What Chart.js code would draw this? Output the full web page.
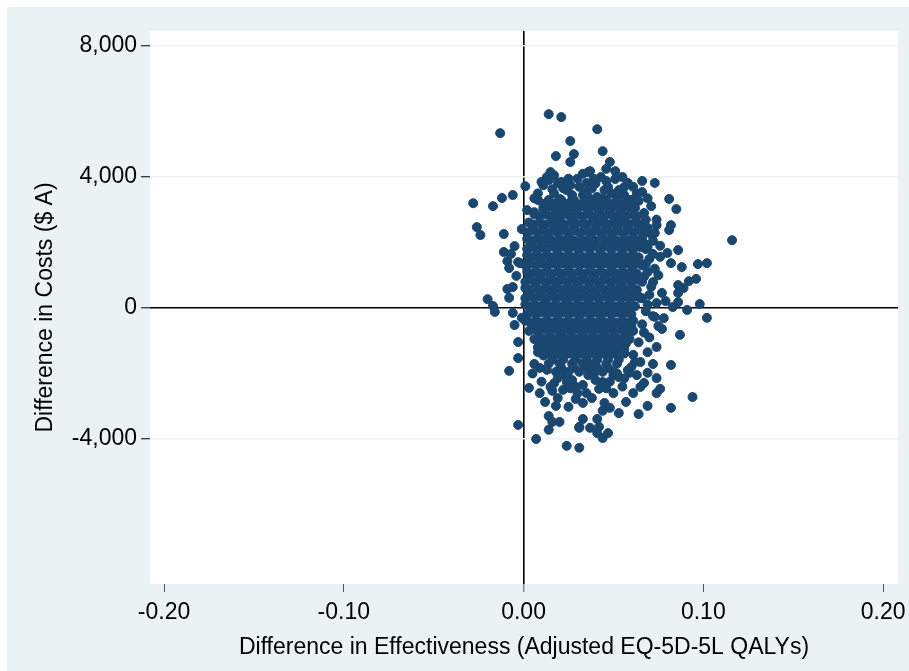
<!DOCTYPE html>
<html><head><meta charset="utf-8">
<script src="https://cdn.jsdelivr.net/npm/chart.js@4.4.0/dist/chart.umd.min.js"></script>
<style>html,body{margin:0;padding:0;background:#fff;overflow:hidden}#wrap{width:909px;height:671px;position:relative}</style>
</head><body><div id="wrap"><canvas id="c" width="909" height="671"></canvas></div>
<script>
const xTicks = [-0.2, -0.1, 0, 0.1, 0.2];
const yTicks = [-4000, 0, 4000, 8000];
const xRange = [-0.2078, 0.2083];
const yRange = [-8430, 8460];
const xTitle = 'Difference in Effectiveness (Adjusted EQ-5D-5L QALYs)';
const yTitle = 'Difference in Costs ($ A)';

// bootstrap replicates: [incremental QALYs, incremental cost]
const upperTail = [
[0.014,5920],[0.021,5830],[-0.013,5340],[0.026,5100],[0.018,4640],[0.028,4700],[0.026,4460],[0.015,4150],[0.013,4000],[0.036,4150],
[0.041,5460],[0.044,4790],[0.048,4460],[0.051,4180],[0.037,4180],[0.051,3940],[0.046,3880],[0.058,3820],[0.066,3880],[0.073,3820],
[0.056,3690],[0.045,3600],[0.066,3540],[0.052,3390],[0.064,3270],[0.081,3330],[0.085,3020],[0.071,3110],
[0.001,3720],[0.011,3750],[0.016,3630],[0.019,3820],[0.020,3330],[0.013,3080],[0.027,3450],[0.002,2990],
[0.035,3820],[0.026,3750],[0.022,3660],[0.036,3390],[0.041,3390],[0.059,3300],[0.021,3850],[0.014,3910],
[0.024,3600],[0.031,3700],[0.035,3550],[0.040,3800],[0.049,3500],[0.056,3450],[0.030,3950],[0.043,4000],[0.060,3300],[0.062,3050],[0.008,3500],
[0.006,3350],[0.017,3500],[0.028,3300],[0.033,3450],[0.038,3650],[0.044,3350],[0.047,3700],[0.053,3600],[0.063,3500],[0.069,3350],
[0.010,3850],[0.017,4050],[0.025,3950],[0.033,4100],[0.039,3950],[0.046,4250],[0.055,4000],[0.061,3700]
];
const leftTail = [
[-0.028,3200],[-0.017,3110],[-0.012,3360],[-0.006,3450],
[-0.026,2470],[-0.024,2230],[-0.011,2260],[-0.001,2410],[-0.005,1890],[-0.011,1710],[-0.007,1650],[-0.009,1430],[-0.008,1220],
[-0.003,1400],[-0.004,980],[-0.002,1370],[-0.006,640],[-0.009,580],[-0.008,310],[-0.020,270],[-0.017,60],[-0.016,-120],
[-0.006,-150],[-0.005,-520],[-0.001,-300],[-0.003,-1040],[-0.003,-1530],[-0.008,-1920],[-0.003,-3570]
];
const rightTail = [
[0.082,2530],[0.081,2380],[0.074,2530],[0.073,2290],[0.072,2050],[0.067,1980],[0.086,1770],[0.080,1680],[0.076,1560],[0.082,1370],
[0.088,1250],[0.097,1340],[0.102,1370],[0.116,2070],
[0.072,790],[0.086,700],[0.092,820],[0.096,890],[0.089,610],[0.086,460],[0.077,460],[0.079,210],[0.086,180],[0.083,30],[0.091,-60],
[0.098,120],[0.102,-300],[0.087,-820],[0.077,-640],[0.078,-310],[0.073,-270],
[0.068,2700],[0.070,1500],[0.069,1100],[0.070,400],[0.068,-100],[0.066,-500],[0.070,-900],
[0.067,2900],[0.069,2450],[0.071,2250],[0.066,2150],[0.069,1850],[0.072,1650],[0.068,1350],[0.073,1200],[0.067,950],[0.071,650],
[0.066,300],[0.069,100],[0.072,-250],[0.067,-750],[0.064,-1050],[0.069,-1350],[0.062,-1650],[0.074,2700],[0.076,1900],[0.075,1000],
[0.074,150],[0.075,-550]
];
const lowerTail = [
[0.003,-2440],[0.015,-2410],[0.016,-2530],[0.012,-2870],[0.018,-2990],[0.025,-3020],[0.029,-2780],[0.014,-3300],[0.016,-3480],[0.020,-3480],
[0.014,-3720],[0.033,-3390],[0.031,-3630],[0.007,-4000],[0.024,-4210],[0.031,-4270],
[0.006,-1710],[0.009,-1830],[0.013,-1890],[0.019,-2140],[0.024,-2260],
[0.074,-1190],[0.082,-1740],[0.072,-1710],[0.069,-1980],[0.074,-2140],[0.076,-2470],[0.074,-2600],[0.094,-2720],[0.082,-3050],
[0.069,-2990],[0.064,-3240],[0.053,-3210],[0.048,-3050],[0.044,-3140],[0.041,-3390],[0.042,-3630],[0.047,-3820],[0.044,-3970],[0.041,-3820],
[0.037,-3660],[0.061,-2600],[0.057,-2870],[0.067,-2290],[0.065,-2410],[0.050,-2600],[0.042,-2470],[0.044,-2260],[0.053,-2110],[0.040,-1950],
[0.059,-1980],[0.065,-1650],[0.061,-1430],[0.056,-1280],
[0.027,-2200],[0.033,-2350],[0.036,-2050],[0.048,-2250],[0.055,-2400],[0.030,-2600],[0.038,-2750],[0.052,-2000],[0.058,-1900],[0.022,-2500],[0.031,-3660],
[0.008,-1350],[0.005,-2000],[0.010,-2250],[0.017,-2300],[0.023,-2050],[0.029,-2400],[0.035,-2600],[0.040,-2200],[0.046,-2450],[0.050,-2050],
[0.056,-2150],[0.060,-1800],[0.063,-2050],[0.033,-2900],[0.045,-2900],[0.026,-2450],[0.009,-2600],[0.019,-2750]
];
// dense centre of the cloud, read row by row (cost level -> effectiveness values)
const coreCost = [3300,3175,3050,2925,2800,2650,2550,2425,2300,2150,2050,1925,1800,1650,1550,1425,1300,1150,1050,925,800,650,550,425,300,150,50,-75,-200,-350,-450,-575,-700,-850,-950,-1075,-1200,-1325,-1450,-1575,-1700,-1825,-1950];
const coreEff = [
[0.008,0.014,0.021,0.027,0.034,0.040,0.046,0.052],
[0.011,0.017,0.024,0.030,0.037,0.043,0.049,0.056],
[0.011,0.017,0.024,0.030,0.036,0.043,0.049,0.055,0.061],
[0.006,0.012,0.018,0.023,0.029,0.036,0.042,0.048,0.054,0.060],
[0.009,0.015,0.020,0.026,0.033,0.039,0.045,0.051,0.057,0.063],
[0.016,0.028,0.040,0.052],
[0.006,0.012,0.018,0.023,0.029,0.035,0.041,0.047,0.053,0.059,0.065],
[0.005,0.011,0.017,0.022,0.028,0.034,0.040,0.046,0.052,0.058,0.064],
[0.002,0.008,0.014,0.019,0.025,0.031,0.037,0.043,0.049,0.055,0.061,0.067],
[0.013,0.025,0.037,0.049],
[0.005,0.011,0.016,0.022,0.028,0.034,0.040,0.046,0.052,0.058,0.064],
[0.004,0.010,0.016,0.021,0.027,0.033,0.039,0.045,0.051,0.057,0.063],
[0.002,0.008,0.013,0.019,0.025,0.031,0.037,0.043,0.049,0.055,0.061,0.068],
[0.019,0.031,0.043,0.055],
[0.004,0.010,0.016,0.022,0.028,0.034,0.040,0.046,0.052,0.058,0.064],
[0.003,0.009,0.015,0.020,0.026,0.032,0.038,0.044,0.050,0.056,0.062],
[0.001,0.007,0.013,0.019,0.025,0.031,0.037,0.043,0.049,0.055,0.061,0.066],
[0.013,0.025,0.037,0.049],
[0.004,0.010,0.016,0.022,0.028,0.034,0.040,0.046,0.052,0.058,0.063],
[0.003,0.009,0.015,0.021,0.027,0.033,0.039,0.045,0.051,0.057,0.062],
[0.001,0.007,0.013,0.019,0.025,0.031,0.037,0.043,0.049,0.055,0.060,0.066],
[0.018,0.030,0.042,0.054],
[0.003,0.009,0.015,0.021,0.027,0.033,0.039,0.045,0.051,0.057,0.063],
[0.004,0.010,0.016,0.022,0.028,0.034,0.040,0.046,0.052,0.058,0.063],
[0.001,0.006,0.012,0.018,0.024,0.030,0.036,0.042,0.048,0.054,0.060,0.065],
[0.012,0.024,0.036,0.048],
[0.003,0.009,0.015,0.021,0.027,0.033,0.039,0.045,0.051,0.057,0.062],
[0.005,0.011,0.017,0.023,0.029,0.035,0.041,0.047,0.053,0.059],
[0.002,0.007,0.013,0.019,0.025,0.031,0.037,0.043,0.049,0.055,0.060],
[0.019,0.031,0.043],
[0.004,0.010,0.016,0.022,0.028,0.034,0.040,0.046,0.052,0.058],
[0.006,0.012,0.018,0.024,0.030,0.036,0.042,0.048,0.054,0.060],
[0.003,0.008,0.014,0.020,0.026,0.032,0.038,0.044,0.050,0.056,0.061],
[0.021,0.033,0.045],
[0.006,0.012,0.018,0.024,0.030,0.036,0.042,0.048,0.054,0.059],
[0.009,0.015,0.021,0.027,0.033,0.039,0.045,0.051,0.057],
[0.008,0.014,0.020,0.026,0.032,0.038,0.044,0.050,0.056],
[0.012,0.018,0.024,0.030,0.036,0.042,0.048,0.054],
[0.011,0.017,0.023,0.029,0.035,0.041,0.047,0.053],
[0.016,0.022,0.029,0.035,0.041,0.047,0.053],
[0.014,0.020,0.027,0.033,0.039,0.046,0.052],
[0.021,0.028,0.035,0.041,0.047],
[0.018,0.025,0.031,0.038,0.044,0.050]
];
// further replicates filling the gaps of the dense centre
const fillCost = [3110,2860,2610,2360,2110,1860,1610,1360,1110,860,610,360,110,-140,-390,-640,-890,-1140,-1390];
const fillEff = [
[0.014,0.020,0.027,0.033,0.039,0.046,0.052,0.058],
[0.006,0.012,0.018,0.024,0.030,0.036,0.042,0.048,0.054,0.060],
[0.003,0.009,0.015,0.021,0.027,0.033,0.038,0.044,0.050,0.056,0.062],
[0.005,0.011,0.017,0.023,0.028,0.034,0.040,0.046,0.052,0.058,0.064],
[0.002,0.008,0.014,0.020,0.026,0.032,0.038,0.044,0.050,0.056,0.061],
[0.005,0.011,0.017,0.023,0.029,0.035,0.041,0.047,0.053,0.059,0.065],
[0.002,0.007,0.013,0.019,0.025,0.031,0.037,0.043,0.049,0.055,0.061],
[0.004,0.010,0.016,0.022,0.028,0.034,0.040,0.046,0.052,0.058,0.064],
[0.002,0.007,0.013,0.019,0.025,0.031,0.037,0.043,0.049,0.055,0.060],
[0.004,0.010,0.016,0.022,0.028,0.034,0.040,0.046,0.052,0.058,0.063],
[0.001,0.006,0.012,0.018,0.024,0.030,0.036,0.042,0.048,0.054,0.060],
[0.003,0.009,0.015,0.021,0.027,0.033,0.039,0.045,0.051,0.057,0.062],
[0.001,0.006,0.012,0.018,0.024,0.030,0.036,0.042,0.048,0.054,0.059],
[0.004,0.010,0.016,0.022,0.028,0.034,0.040,0.046,0.052,0.058],
[0.001,0.007,0.013,0.019,0.025,0.031,0.037,0.043,0.049,0.055,0.061],
[0.005,0.011,0.017,0.023,0.029,0.035,0.041,0.047,0.053,0.058],
[0.009,0.015,0.021,0.027,0.033,0.039,0.045,0.051,0.057],
[0.011,0.017,0.023,0.029,0.035,0.041,0.047,0.053],
[0.014,0.020,0.026,0.032,0.038,0.044,0.050,0.056]
];

const BG = '#eaf2f3';
const NAVY = '#1a476f';
const FONT = "'Liberation Sans', Arial, Helvetica, sans-serif";

const corePts = [];
coreCost.forEach((c, i) => coreEff[i].forEach(e => corePts.push({x: e, y: c})));
fillCost.forEach((c, i) => fillEff[i].forEach(e => corePts.push({x: e, y: c})));
const tailPts = [].concat(upperTail, leftTail, rightTail, lowerTail).map(p => ({x: p[0], y: p[1]}));
const allPts = corePts.concat(tailPts);

const bgPlugin = {
  id: 'bg',
  beforeDraw(chart) {
    const ctx = chart.ctx, a = chart.chartArea;
    ctx.save();
    ctx.fillStyle = '#ffffff';
    ctx.fillRect(0, 0, chart.width, chart.height);
    ctx.fillStyle = BG;
    ctx.fillRect(7, 7, chart.width - 7, chart.height - 7);
    ctx.fillStyle = '#ffffff';
    ctx.fillRect(a.left, a.top, a.right - a.left, a.bottom - a.top);
    ctx.restore();
  }
};

new Chart(document.getElementById('c'), {
  type: 'scatter',
  data: { datasets: [{
    data: allPts,
    pointRadius: 4.5, pointHoverRadius: 4.5, borderWidth: 1,
    backgroundColor: NAVY, borderColor: NAVY
  }]},
  options: {
    responsive: false, animation: false, devicePixelRatio: 1,
    events: [],
    layout: { padding: { left: 0, top: 31, right: 11, bottom: 0 } },
    plugins: { legend: { display: false }, tooltip: { enabled: false } },
    scales: {
      x: {
        type: 'linear', min: xRange[0], max: xRange[1],
        afterBuildTicks: s => { s.ticks = xTicks.map(v => ({ value: v })); },
        afterFit: s => { s.height = 87; s.paddingLeft = 0; s.paddingRight = 0; },
        border: { display: false },
        grid: {
          drawOnChartArea: true, drawTicks: true, tickLength: 8,
          color: c => (c.tick && c.tick.value === 0) ? '#000000' : 'rgba(0,0,0,0)',
          lineWidth: c => (c.tick && c.tick.value === 0) ? 1.6 : 1,
          tickColor: '#555555', tickWidth: 1
        },
        ticks: {
          color: '#000', padding: 7, maxRotation: 0, autoSkip: false,
          font: { family: FONT, size: 23 },
          callback: v => Number(v).toFixed(2)
        },
        title: { display: true, text: xTitle, color: '#000', font: { family: FONT, size: 23 }, padding: { top: 0, bottom: 10 } }
      },
      y: {
        type: 'linear', min: yRange[0], max: yRange[1],
        afterBuildTicks: s => { s.ticks = yTicks.map(v => ({ value: v })); },
        afterFit: s => { s.width = 150; s.paddingTop = 0; s.paddingBottom = 0; },
        border: { display: false },
        grid: {
          drawOnChartArea: true, drawTicks: true, tickLength: 9,
          color: c => (c.tick && c.tick.value === 0) ? '#000000' : BG,
          lineWidth: c => (c.tick && c.tick.value === 0) ? 1.6 : 1.5,
          tickColor: '#000000', tickWidth: 1
        },
        ticks: {
          color: '#000', padding: 4, autoSkip: false,
          font: { family: FONT, size: 23 },
          callback: v => Number(v).toLocaleString('en-US')
        },
        title: { display: true, text: yTitle, color: '#000', font: { family: FONT, size: 23 }, padding: { top: 32, bottom: 0 } }
      }
    }
  },
  plugins: [bgPlugin]
});
</script>
</body></html>
